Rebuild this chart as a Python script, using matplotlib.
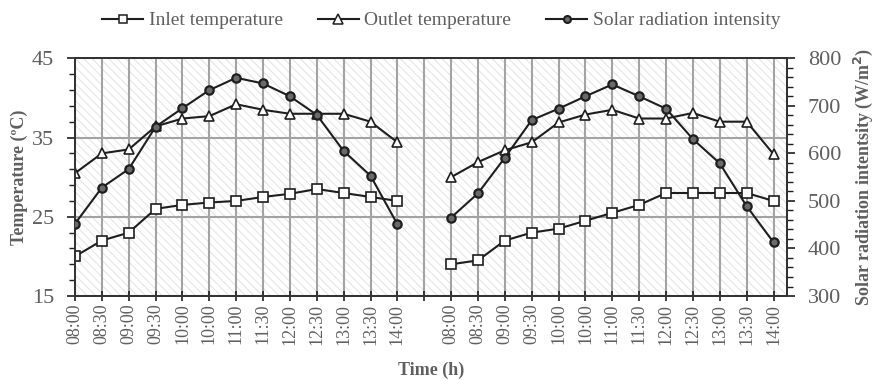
import numpy as np
import matplotlib
matplotlib.use("Agg")
import matplotlib.pyplot as plt
from matplotlib.patches import Rectangle

plt.rcParams['font.family'] = ['Liberation Serif', 'DejaVu Serif']
plt.rcParams['hatch.linewidth'] = 0.7

# two measurement days, separated by one empty slot on the axis
times = ["08:00", "08:30", "09:00", "09:30", "10:00", "10:00", "11:00",
         "11:30", "12:00", "12:30", "13:00", "13:30", "14:00"]

inlet_day1 = [20.0, 22.0, 23.0, 26.0, 26.5, 26.8, 27.0, 27.5, 27.9, 28.5, 28.0, 27.5, 27.0]
inlet_day2 = [19.0, 19.5, 22.0, 23.0, 23.5, 24.5, 25.5, 26.5, 28.0, 28.0, 28.0, 28.0, 27.0]

outlet_day1 = [30.5, 33.0, 33.5, 36.4, 37.4, 37.7, 39.2, 38.5, 38.0, 38.0, 38.0, 37.0, 34.4]
outlet_day2 = [30.0, 31.9, 33.4, 34.4, 36.9, 37.9, 38.5, 37.4, 37.4, 38.1, 37.0, 37.0, 32.9]

solar_day1 = [452, 528, 567, 656, 695, 733, 759, 747, 720, 681, 605, 553, 451]
solar_day2 = [465, 516, 591, 670, 694, 720, 745, 720, 694, 630, 579, 489, 413]

n = len(times)
x1 = np.arange(n)
x2 = np.arange(n) + n + 1
ticklabels = times + [""] + times

txt = '#5f5f5f'
ink = '#1e1e1e'

fig = plt.figure(figsize=(8.74, 3.8), dpi=100)
ax = fig.add_axes([0.0858, 0.221, 0.8146, 0.6256])
ax2 = ax.twinx()

# light diagonal hatching behind the plot area
bg = Rectangle((0, 0), 1, 1, transform=ax.transAxes, facecolor='white',
               edgecolor='#e3e3e3', hatch='\\\\\\\\', lw=0, zorder=-5)
ax.add_patch(bg)

sq = dict(color=ink, lw=1.5, marker='s', ms=6.5, mfc='white', mec=ink, mew=1.2)
tri = dict(color=ink, lw=1.5, marker='^', ms=7, mfc='white', mec=ink, mew=1.2)
circ = dict(color=ink, lw=1.5, marker='o', ms=6, mfc='#6a6a6a', mec=ink, mew=1.6)

for xs, inl, out in [(x1, inlet_day1, outlet_day1), (x2, inlet_day2, outlet_day2)]:
    ax.plot(xs, inl, zorder=4, **sq)
    ax.plot(xs, out, zorder=4, **tri)
for xs, sol in [(x1, solar_day1), (x2, solar_day2)]:
    ax2.plot(xs, sol, zorder=4, **circ)

ax.set_xlim(0, 26.5)
ax.set_ylim(15, 45)
ax2.set_ylim(300, 800)

ax.set_xticks(np.arange(2 * n + 1))
ax.set_xticklabels(ticklabels, rotation=90, fontsize=13, color=txt)
ax.tick_params(axis='x', direction='inout', length=7, width=1.2, color=ink, pad=2)

ax.set_yticks(np.arange(15, 46, 10))
ax.set_yticks(np.arange(15, 46, 2), minor=True)
ax.tick_params(axis='y', which='both', direction='out', color=ink, labelsize=16,
               labelcolor=txt, pad=9)
ax.tick_params(axis='y', which='major', length=6, width=1.2)
ax.tick_params(axis='y', which='minor', length=4, width=1)

ax2.set_yticks(np.arange(300, 801, 100))
ax2.set_yticks(np.arange(300, 801, 20), minor=True)
ax2.tick_params(axis='y', which='both', direction='out', color=ink, labelsize=16,
                labelcolor=txt, pad=9)
ax2.tick_params(axis='y', which='major', length=6, width=1.2)
ax2.tick_params(axis='y', which='minor', length=4, width=1)

ax.grid(True, axis='both', which='major', color='#a3a3a3', lw=1.5)
ax.set_axisbelow(True)

for a in (ax, ax2):
    for s in a.spines.values():
        s.set_color('#333333')
        s.set_linewidth(1.4)

ax.set_ylabel("Temperature (\u00baC)", fontsize=13, fontweight='bold', color=txt, labelpad=3)
ax2.set_ylabel("Solar radiation intentsity (W/m$^\\mathbf{2}$)", fontsize=13,
               fontweight='bold', color=txt, labelpad=8)
ax.set_xlabel("Time (h)", fontsize=13, fontweight='bold', color=txt, labelpad=12)

handles = [
    plt.Line2D([], [], color=ink, lw=1.5, marker='s', ms=6, mfc='white', mec=ink, mew=1.1),
    plt.Line2D([], [], color=ink, lw=1.5, marker='^', ms=6.5, mfc='white', mec=ink, mew=1.1),
    plt.Line2D([], [], color=ink, lw=1.5, marker='o', ms=5, mfc='#6a6a6a', mec=ink, mew=1.5),
]
labels = ["Inlet temperature", "Outlet temperature", "Solar radiation intensity"]
leg = fig.legend(handles, labels, loc='upper center', bbox_to_anchor=(0.505, 1.015),
                 ncol=3, frameon=False, fontsize=14, handlelength=2.1,
                 handletextpad=0.3, columnspacing=1.8)
for t in leg.get_texts():
    t.set_color(txt)

fig.savefig("out.png", dpi=100)
